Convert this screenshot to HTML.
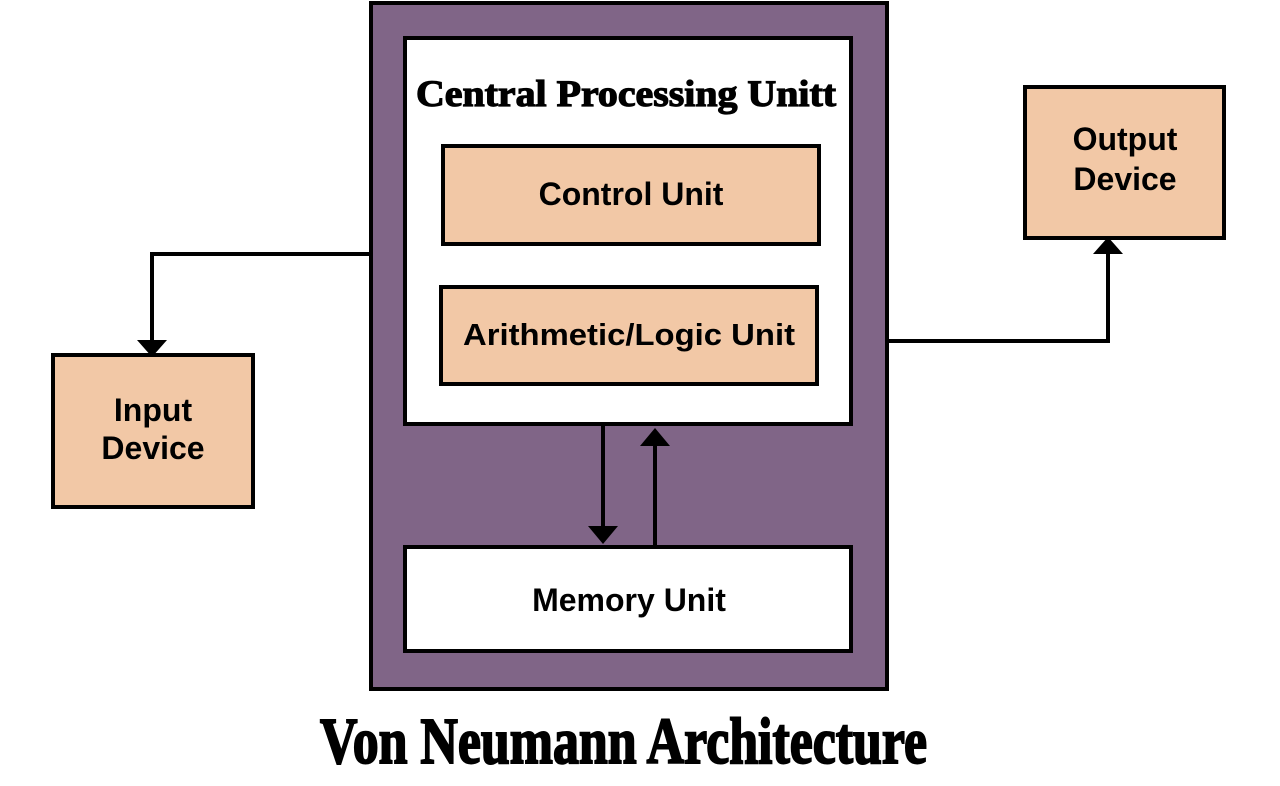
<!DOCTYPE html>
<html><head><meta charset="utf-8"><style>html,body{margin:0;padding:0;background:#fff}svg{display:block}</style></head>
<body>
<svg width="1280" height="786" viewBox="0 0 1280 786" xmlns="http://www.w3.org/2000/svg">
<rect width="1280" height="786" fill="#fff"/>
<rect x="371" y="3" width="516" height="686" fill="#806587" stroke="#000" stroke-width="4"/>
<rect x="405" y="38" width="446" height="386" fill="#fff" stroke="#000" stroke-width="4"/>
<text x="626" y="106" text-anchor="middle" font-family="Liberation Serif, serif" font-weight="bold" font-size="37" stroke="#000" stroke-width="1.2" textLength="420" lengthAdjust="spacingAndGlyphs">Central Processing Unitt</text>
<rect x="443" y="146" width="376" height="98" fill="#f2c8a6" stroke="#000" stroke-width="4"/>
<text x="631" y="205" text-anchor="middle" font-family="Liberation Sans, sans-serif" font-weight="bold" font-size="32">Control Unit</text>
<rect x="441" y="287" width="376" height="97" fill="#f2c8a6" stroke="#000" stroke-width="4"/>
<text x="629" y="345" text-anchor="middle" font-family="Liberation Sans, sans-serif" font-weight="bold" font-size="31" textLength="332" lengthAdjust="spacingAndGlyphs">Arithmetic/Logic Unit</text>
<rect x="405" y="547" width="446" height="104" fill="#fff" stroke="#000" stroke-width="4"/>
<text x="629" y="611" text-anchor="middle" font-family="Liberation Sans, sans-serif" font-weight="bold" font-size="32">Memory Unit</text>
<rect x="53" y="355" width="200" height="152" fill="#f2c8a6" stroke="#000" stroke-width="4"/>
<text x="153" y="421" text-anchor="middle" font-family="Liberation Sans, sans-serif" font-weight="bold" font-size="32">Input</text>
<text x="153" y="459" text-anchor="middle" font-family="Liberation Sans, sans-serif" font-weight="bold" font-size="32">Device</text>
<rect x="1025" y="87" width="199" height="151" fill="#f2c8a6" stroke="#000" stroke-width="4"/>
<text x="1125" y="150" text-anchor="middle" font-family="Liberation Sans, sans-serif" font-weight="bold" font-size="32">Output</text>
<text x="1125" y="190" text-anchor="middle" font-family="Liberation Sans, sans-serif" font-weight="bold" font-size="32">Device</text>
<g stroke="#000" stroke-width="4" fill="none">
<polyline points="370,254 152,254 152,342"/>
<polyline points="888,341 1108,341 1108,252"/>
<line x1="603" y1="426" x2="603" y2="530"/>
<line x1="655" y1="546" x2="655" y2="442"/>
</g>
<g fill="#000">
<polygon points="137,340 167,340 152,357"/>
<polygon points="1093,254 1123,254 1108,237"/>
<polygon points="588,526 618,526 603,544"/>
<polygon points="640,446 670,446 655,428"/>
</g>
<text x="320" y="763" font-family="Liberation Serif, serif" font-weight="bold" font-size="66" stroke="#000" stroke-width="2" textLength="607" lengthAdjust="spacingAndGlyphs">Von Neumann Architecture</text>
</svg>
</body></html>
